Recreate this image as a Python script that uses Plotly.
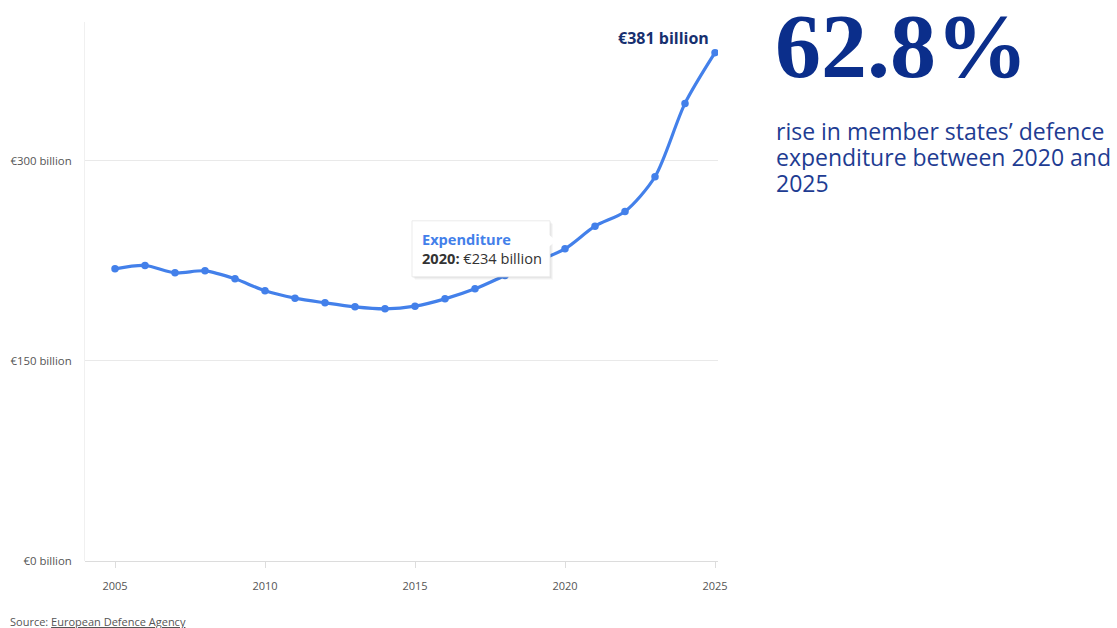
import plotly.graph_objects as go

# Annual defence expenditure of member states, € billion
years = list(range(2005, 2026))
expenditure = [219, 221.5, 216, 217.5, 211.5, 202.5, 197, 193.5, 190.5, 189, 191,
               196.5, 204, 214, 224, 234, 251, 262, 288, 343, 381]

y_tick_vals = [0, 150, 300]
y_tick_text = ["€0 billion", "€150 billion", "€300 billion"]
x_tick_vals = [2005, 2010, 2015, 2020, 2025]

headline = "62.8%"
subtext_lines = ["rise in member states’ defence",
                 "expenditure between 2020 and",
                 "2025"]

W, H = 1117, 628
ML, MR, MT, MB = 85, 399, 22, 67
PW, PH = W - ML - MR, H - MT - MB

LINE_BLUE = "#4380ea"
NAVY = "#0b2e8b"
TEXT_BLUE = "#1e3c92"
FONT = "Open Sans, Noto Sans, sans-serif"


def px_x(x):
    return (x - ML) / PW


def px_y(y):
    return 1 - (y - MT) / PH


fig = go.Figure()
fig.add_trace(go.Scatter(
    x=years, y=expenditure, mode="lines+markers",
    line=dict(color=LINE_BLUE, width=3.2, shape="spline", smoothing=0.8),
    marker=dict(color=LINE_BLUE, size=7.5),
    name="Expenditure", hoverinfo="skip", showlegend=False,
))

annotations = []
shapes = []

# Label on the latest value
annotations.append(dict(
    x=years[-1], y=expenditure[-1], xref="x", yref="y",
    text=f"<b>€{expenditure[-1]:.0f} billion</b>", showarrow=False,
    xanchor="right", yanchor="bottom", xshift=-4, yshift=2,
    font=dict(family=FONT, size=16, color="#17306f"),
))

# Tooltip-style callout for 2020, positioned in pixels relative to the point
i2020 = years.index(2020)
tip_x, tip_y = years[i2020], expenditure[i2020]
box_l, box_r, box_half = -153, -15, 28


def tip_shape(x0, x1, y0, y1, fill, line_color="rgba(0,0,0,0)"):
    return dict(type="rect", layer="above",
                xref="x", yref="y", xsizemode="pixel", ysizemode="pixel",
                xanchor=tip_x, yanchor=tip_y,
                x0=x0, x1=x1, y0=y0, y1=y1,
                fillcolor=fill, line=dict(color=line_color, width=1))


for d, alpha in [(3, 0.03), (2, 0.04), (1, 0.05)]:
    shapes.append(tip_shape(box_l + d, box_r + d, -box_half - d, box_half - d,
                            f"rgba(0,0,0,{alpha})"))
shapes.append(tip_shape(box_l, box_r, -box_half, box_half, "white", "#ebebeb"))
shapes.append(dict(
    type="path", layer="above", xref="x", yref="y",
    xsizemode="pixel", ysizemode="pixel", xanchor=tip_x, yanchor=tip_y,
    path=f"M {box_r - 1},14 L {box_r + 6},8 L {box_r - 1},2 Z",
    fillcolor="white", line=dict(color="rgba(0,0,0,0)", width=0),
))

tip_text = (f"<span style='color:{LINE_BLUE}'><b>Expenditure</b></span><br>"
            f"<b>2020:</b> €{tip_y:.0f} billion")
annotations.append(dict(
    x=tip_x, y=tip_y, xref="x", yref="y",
    text=tip_text, showarrow=False, align="left",
    xanchor="left", yanchor="middle", xshift=box_l + 8, yshift=0,
    font=dict(family=FONT, size=14.6, color="#333333"),
))

# Headline figure
annotations.append(dict(
    x=px_x(773), y=px_y(46), xref="paper", yref="paper",
    text=f"<b>{headline}</b>", showarrow=False,
    xanchor="left", yanchor="middle", height=86,
    font=dict(family="Liberation Serif, DejaVu Serif, serif", size=92, color=NAVY),
))

# Explanatory lines
for k, line in enumerate(subtext_lines):
    annotations.append(dict(
        x=px_x(774), y=px_y(131 + 26 * k), xref="paper", yref="paper",
        text=line, showarrow=False, xanchor="left", yanchor="middle",
        height=26,
        font=dict(family=FONT, size=23, color=TEXT_BLUE),
    ))

# Source line
annotations.append(dict(
    x=px_x(8), y=px_y(621), xref="paper", yref="paper",
    text="Source: <u>European Defence Agency</u>", showarrow=False,
    xanchor="left", yanchor="middle",
    font=dict(family=FONT, size=11, color="#555555"),
))

fig.update_layout(
    width=W, height=H,
    margin=dict(l=ML, r=MR, t=MT, b=MB, pad=0, autoexpand=False),
    paper_bgcolor="white", plot_bgcolor="white",
    annotations=annotations, shapes=shapes,
    xaxis=dict(
        range=[2004, 2025.1], tickvals=x_tick_vals, ticks="outside",
        ticklen=6, tickcolor="#dddddd", showgrid=False, zeroline=False,
        showline=False, ticklabelstandoff=9, automargin=False,
        tickfont=dict(family=FONT, size=11, color="#555555"),
    ),
    yaxis=dict(
        range=[0, 404], tickvals=y_tick_vals, ticktext=y_tick_text,
        showgrid=True, gridcolor="#e9e9e9", gridwidth=1,
        zeroline=True, zerolinecolor="#dcdcdc", zerolinewidth=1,
        showline=True, linecolor="#f0f0f0", linewidth=1,
        ticks="", ticklabelstandoff=10, automargin=False,
        tickfont=dict(family=FONT, size=11.4, color="#555555"),
    ),
)

fig.write_html("out.html")
